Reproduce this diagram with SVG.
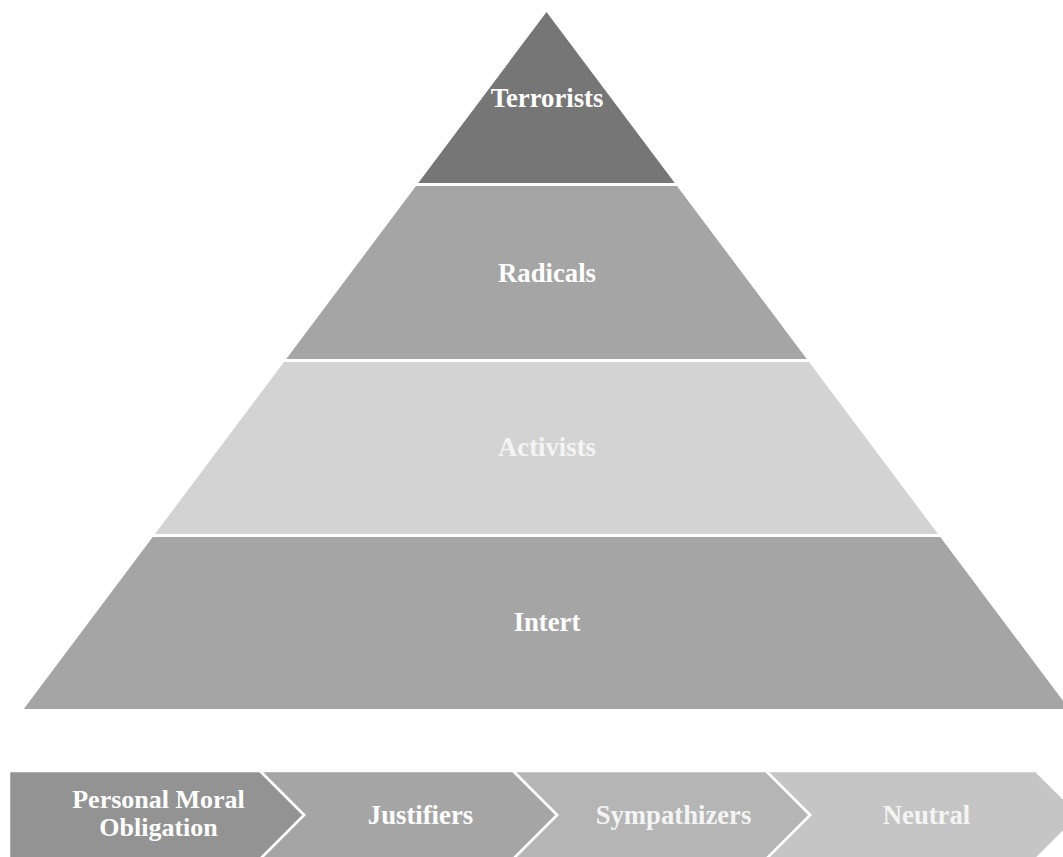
<svg xmlns="http://www.w3.org/2000/svg" width="1063" height="857" viewBox="0 0 1063 857">
  <style>
    .lbl { font-family: "Liberation Serif", "Times New Roman", serif; font-weight: bold; font-size: 26.7px; fill: #ffffff; text-anchor: middle; }
    .two { font-size: 26px; }
    .soft { fill: #f4f4f4; }
    .chev { stroke: #ffffff; stroke-width: 2.5; stroke-linejoin: miter; }
  </style>
  <rect width="1063" height="857" fill="#ffffff"/>

  <!-- Pyramid tiers -->
  <g id="tier-terrorists">
    <polygon points="546.5,12 674.75,183 418.25,183" fill="#767676"/>
    <text class="lbl" x="547" y="107">Terrorists</text>
  </g>
  <g id="tier-radicals">
    <polygon points="416,186 677,186 806.75,359 286.25,359" fill="#a5a5a5"/>
    <text class="lbl" x="547" y="282">Radicals</text>
  </g>
  <g id="tier-activists">
    <polygon points="284,362 809,362 938,534 155,534" fill="#d3d3d3"/>
    <text class="lbl soft" x="547" y="456">Activists</text>
  </g>
  <g id="tier-intert">
    <polygon points="152.75,537 940.25,537 1069.25,709 23.75,709" fill="#a5a5a5"/>
    <text class="lbl" x="547" y="631">Intert</text>
  </g>

  <!-- Process chevrons -->
  <g id="chevrons">
    <g id="step-neutral">
      <polygon class="chev" points="766,771 1036,771 1080,815 1036,859 766,859 810,815" fill="#c5c5c5"/>
      <text class="lbl soft" x="926.5" y="824">Neutral</text>
    </g>
    <g id="step-sympathizers">
      <polygon class="chev" points="513,771 766,771 810,815 766,859 513,859 557,815" fill="#b5b5b5"/>
      <text class="lbl soft" x="673.5" y="824">Sympathizers</text>
    </g>
    <g id="step-justifiers">
      <polygon class="chev" points="260,771 513,771 557,815 513,859 260,859 304,815" fill="#a5a5a5"/>
      <text class="lbl" x="420.5" y="824">Justifiers</text>
    </g>
    <g id="step-obligation">
      <polygon class="chev" points="9,771 260,771 304,815 260,859 9,859" fill="#939393"/>
      <text class="lbl two" x="158.5" y="808">Personal Moral</text>
      <text class="lbl two" x="158.5" y="836">Obligation</text>
    </g>
  </g>
</svg>
